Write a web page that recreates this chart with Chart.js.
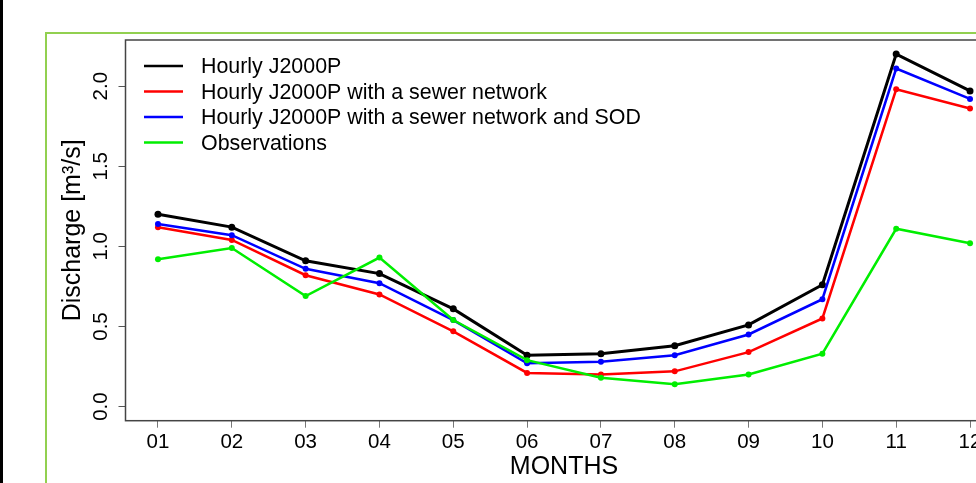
<!DOCTYPE html>
<html>
<head>
<meta charset="utf-8">
<script src="https://cdn.jsdelivr.net/npm/chart.js@4"></script>
<style>
  html, body { margin: 0; padding: 0; background: #fff; overflow: hidden; width: 976px; height: 483px; }
  #strip { position: absolute; left: 0; top: 0; width: 3px; height: 483px; background: #000; }
  #frame { position: absolute; left: 45px; top: 32px; width: 1100px; height: 600px; border: 2px solid #92d050; }
  #wrap { position: absolute; left: 0; top: 0; width: 1040px; height: 483px; }
</style>
</head>
<body>
<div id="strip"></div>
<div id="frame"></div>
<div id="wrap"><canvas id="chart" width="1040" height="483"></canvas></div>
<script>
// Data
const months = ['01', '02', '03', '04', '05', '06', '07', '08', '09', '10', '11', '12'];
const hourly = [1.20, 1.12, 0.91, 0.83, 0.61, 0.32, 0.33, 0.38, 0.51, 0.76, 2.20, 1.97];
const hourlySewer = [1.12, 1.04, 0.82, 0.70, 0.47, 0.21, 0.20, 0.22, 0.34, 0.55, 1.98, 1.86];
const hourlySewerSod = [1.14, 1.07, 0.86, 0.77, 0.54, 0.27, 0.28, 0.32, 0.45, 0.67, 2.11, 1.92];
const observations = [0.92, 0.99, 0.69, 0.93, 0.54, 0.29, 0.18, 0.14, 0.20, 0.33, 1.11, 1.02];
const yTicks = [0, 0.5, 1, 1.5, 2];
const yTickLabels = ['0.0', '0.5', '1.0', '1.5', '2.0'];

const toPoints = vals => vals.map((v, i) => ({ x: i + 1, y: v }));

function series(label, vals, color, width, radius, order) {
  return {
    label: label,
    data: toPoints(vals),
    borderColor: color,
    backgroundColor: color,
    borderWidth: width,
    pointRadius: radius,
    pointBorderWidth: 0,
    pointBackgroundColor: color,
    tension: 0,
    order: order
  };
}

// R-style extras: box, rotated y labels, axis titles, legend in the plot
const rStyle = {
  id: 'rStyle',
  afterDraw(chart) {
    const ctx = chart.ctx;
    const a = chart.chartArea;
    const ys = chart.scales.y;
    ctx.save();
    ctx.strokeStyle = '#444';
    ctx.lineWidth = 1.5;
    ctx.strokeRect(a.left, a.top, a.right - a.left, a.bottom - a.top);

    ctx.fillStyle = '#000';
    ctx.font = '20.5px "Liberation Sans", Arial, sans-serif';
    ctx.textAlign = 'center';
    ctx.textBaseline = 'middle';
    yTicks.forEach((v, i) => {
      ctx.save();
      ctx.translate(101, ys.getPixelForValue(v));
      ctx.rotate(-Math.PI / 2);
      ctx.fillText(yTickLabels[i], 0, 0);
      ctx.restore();
    });

    ctx.font = '25px "Liberation Sans", Arial, sans-serif';
    ctx.save();
    ctx.translate(73, (a.top + a.bottom) / 2);
    ctx.rotate(-Math.PI / 2);
    ctx.fillText('Discharge [m\u00b3/s]', 0, 0);
    ctx.restore();
    ctx.fillText('MONTHS', (a.left + a.right) / 2, 467);

    // legend
    ctx.font = '21.4px "Liberation Sans", Arial, sans-serif';
    ctx.textAlign = 'left';
    chart.data.datasets.forEach((ds, i) => {
      const y = 66 + i * 25.5;
      ctx.strokeStyle = ds.borderColor;
      ctx.lineWidth = 2.5;
      ctx.beginPath();
      ctx.moveTo(144, y);
      ctx.lineTo(183, y);
      ctx.stroke();
      ctx.fillStyle = '#000';
      ctx.fillText(ds.label, 201, y + 1.5);
    });
    ctx.restore();
  }
};

new Chart(document.getElementById('chart'), {
  type: 'line',
  data: {
    datasets: [
      series('Hourly J2000P', hourly, '#000000', 3, 3.5, 4),
      series('Hourly J2000P with a sewer network', hourlySewer, '#ff0000', 2.5, 3, 3),
      series('Hourly J2000P with a sewer network and SOD', hourlySewerSod, '#0000ff', 2.5, 3, 2),
      series('Observations', observations, '#00ee00', 2.5, 3, 1)
    ]
  },
  options: {
    responsive: false,
    animation: false,
    devicePixelRatio: 1,
    events: [],
    layout: { padding: { left: 0, top: 40, right: 37.5, bottom: 0 } },
    plugins: { legend: { display: false }, tooltip: { enabled: false } },
    scales: {
      x: {
        type: 'linear',
        min: 0.56,
        max: 12.44,
        afterBuildTicks: s => { s.ticks = months.map((m, i) => ({ value: i + 1 })); },
        afterFit: s => { s.height = 62.3; },
        ticks: {
          autoSkip: false,
          maxRotation: 0,
          color: '#000',
          padding: 2,
          font: { family: '"Liberation Sans", Arial, sans-serif', size: 20.5 },
          callback: v => months[v - 1]
        },
        grid: { drawOnChartArea: false, drawTicks: true, tickLength: 7, color: '#777' },
        border: { display: false }
      },
      y: {
        min: -0.088,
        max: 2.288,
        afterBuildTicks: s => { s.ticks = yTicks.map(v => ({ value: v })); },
        afterFit: s => { s.width = 125.5; },
        ticks: { display: false },
        grid: { drawOnChartArea: false, drawTicks: true, tickLength: 7, color: '#555' },
        border: { display: false }
      }
    }
  },
  plugins: [rStyle]
});
</script>
</body>
</html>
